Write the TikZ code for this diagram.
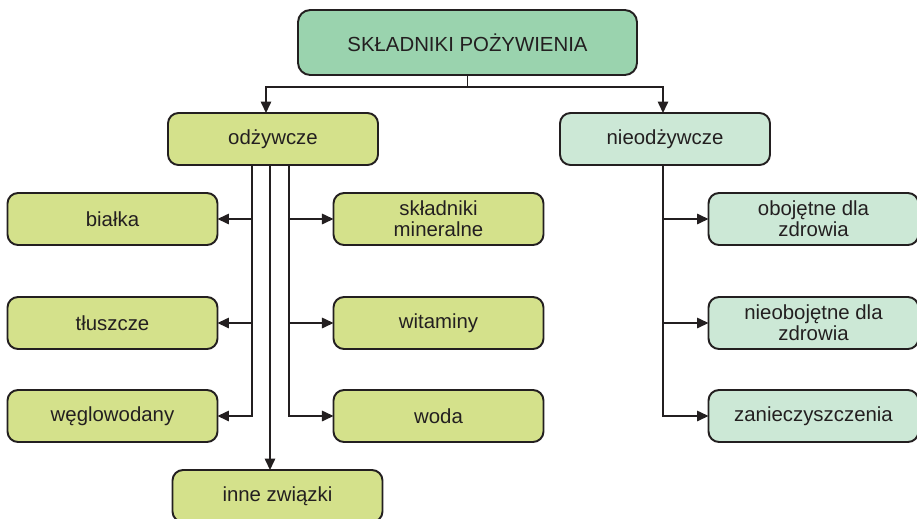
\documentclass[tikz,border=0pt]{standalone}
\usepackage{fontspec}
\setmainfont{Liberation Sans}
\usetikzlibrary{arrows.meta, positioning}
\definecolor{cTitle}{RGB}{154,211,174}
\definecolor{cFood}{RGB}{212,225,139}
\definecolor{cNon}{RGB}{204,232,214}
\definecolor{cInk}{RGB}{35,31,32}
\tikzset{
	hdr/.style    ={rectangle, rounded corners=7pt, draw=cInk, line width=1.1pt, outer sep=0pt, minimum width=6.78cm, minimum height=1.3cm, align=center, fill=cTitle},
	food/.style   ={rectangle, rounded corners=6pt, draw=cInk, line width=1.1pt, outer sep=0pt, minimum width=4.2cm, minimum height=1.04cm, align=center, fill=cFood},
	nonfood/.style={food, fill=cNon},
	sig/.style    ={-{Triangle[length=2.3mm, width=2.1mm]}, line width=0.9pt, draw=cInk},
}
\begin{document}
\begin{tikzpicture}[every node/.style={font=\fontsize{11.6}{12}\selectfont, text=cInk}]
	\useasboundingbox (-9.35,0.85) rectangle (8.99,-9.51);
	\clip (-9.35,0.85) rectangle (8.99,-9.51);
	\node[hdr] (title) {SKŁADNIKI POŻYWIENIA};
	\node[food, below=0.76cm of title, xshift=-3.89cm] (odz) {odżywcze};
	\node[nonfood, right=3.64cm of odz] (nodz) {nieodżywcze};
	% odzywcze
	\node[food, below=0.56cm of odz, xshift=-3.21cm] (bialka) {białka};
	\node[food, below=1.04cm of bialka] (tluszcze) {tłuszcze};
	\node[food, below=0.82cm of tluszcze] (wegl) {węglowodany};
	\node[food, right=2.32cm of bialka] (miner) {składniki\\mineralne};
	\node[food, right=2.32cm of tluszcze] (witam) {witaminy};
	\node[food, right=2.32cm of wegl] (woda) {woda};
	\node[food, below=0.56cm of wegl, xshift=3.3cm] (inne) {inne związki};
	% nieodzywcze
	\node[nonfood, right=3.3cm of miner] (oboj) {obojętne dla\\zdrowia};
	\node[nonfood, right=3.3cm of witam] (nieob) {nieobojętne dla\\zdrowia};
	\node[nonfood, right=3.3cm of woda] (zanie) {zanieczyszczenia};
	\coordinate[below=0.24cm of title] (split);
	\draw[sig] (title.south) -- (split) -| ([xshift=-0.14cm]odz.north);
	\draw[sig] (split) -| ([xshift=-0.04cm]nodz.north);
	\foreach \t in {bialka, tluszcze, wegl} \draw[sig] ([xshift=-0.42cm]odz.south) |- (\t.east);
	\foreach \t in {miner, witam, woda} \draw[sig] ([xshift=0.32cm]odz.south) |- (\t.west);
	\draw[sig] ([xshift=-0.06cm]odz.south) -- ([xshift=-0.06cm]odz.south |- inne.north);
	\foreach \t in {oboj, nieob, zanie} \draw[sig] ([xshift=-0.04cm]nodz.south) |- (\t.west);
\end{tikzpicture}
\end{document}
